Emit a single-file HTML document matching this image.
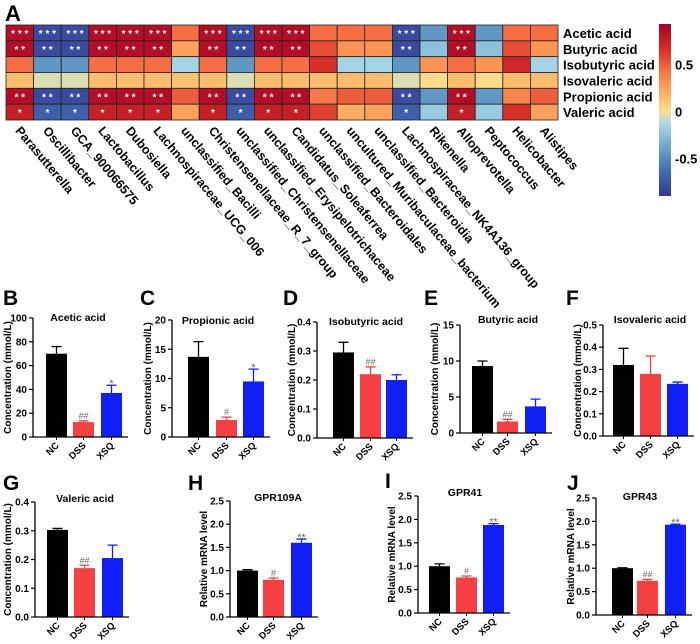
<!DOCTYPE html>
<html><head><meta charset="utf-8"><style>
body{margin:0;background:#fff;}
svg{display:block;font-family:"Liberation Sans",Arial,sans-serif;font-weight:bold;}
</style></head><body>
<svg id="fig" width="700" height="644" viewBox="0 0 700 644" xmlns="http://www.w3.org/2000/svg"></svg>
<script>
const taxa=["Parasutterella","Oscillibacter","GCA_900066575","Lactobacillus","Dubosiella","Lachnospiraceae_UCG_006","unclassified_Bacilli","Christensenellaceae_R_7_group","unclassified_Christensenellaceae","unclassified_Erysipelotrichaceae","Candidatus_Soleaferrea","unclassified_Bacteroidales","uncultured_Muribaculaceae_bacterium","unclassified_Bacteroidia","Lachnospiraceae_NK4A136_group","Rikenella","Alloprevotella","Peptococcus","Helicobacter","Alistipes"];
const acids=["Acetic acid","Butyric acid","Isobutyric acid","Isovaleric acid","Propionic acid","Valeric acid"];
const rAcetic=[0.85,-0.8,-0.8,0.85,0.85,0.85,0.45,0.85,-0.8,0.85,0.85,0.45,0.45,0.45,-0.8,-0.45,0.85,-0.45,0.45,0.45];
const rButyric=[0.85,-0.8,-0.8,0.85,0.85,0.85,0.25,0.85,-0.8,0.85,0.85,0.55,0.3,0.3,-0.8,-0.25,0.85,-0.25,0.55,0.3];
const rIsobutyric=[0.45,-0.45,-0.45,0.45,0.45,0.45,-0.15,0.45,-0.45,0.45,0.45,0.65,-0.15,-0.15,-0.45,0.3,0.45,0.3,0.7,-0.15];
const rIsovaleric=[0.15,-0.05,-0.05,0.15,0.15,0.15,0.12,0.15,-0.05,0.15,0.15,0.15,0.15,0.15,-0.05,0.02,0.15,0.02,0.15,0.15];
const rPropionic=[0.85,-0.8,-0.8,0.85,0.85,0.85,0.5,0.85,-0.8,0.85,0.85,0.4,0.5,0.5,-0.8,-0.45,0.85,-0.45,0.35,0.5];
const rValeric=[0.75,-0.7,-0.7,0.75,0.75,0.75,0.25,0.75,-0.7,0.75,0.75,0.6,0.2,0.25,-0.7,-0.2,0.75,-0.2,0.65,0.25];
const sig=[[3,3,3,3,3,3,0,3,3,3,3,0,0,0,3,0,3,0,0,0],[2,2,2,2,2,2,0,2,2,2,2,0,0,0,2,0,2,0,0,0],[0,0,0,0,0,0,0,0,0,0,0,0,0,0,0,0,0,0,0,0],[0,0,0,0,0,0,0,0,0,0,0,0,0,0,0,0,0,0,0,0],[2,2,2,2,2,2,0,2,2,2,2,0,0,0,2,0,2,0,0,0],[1,1,1,1,1,1,0,1,1,1,1,0,0,0,1,0,1,0,0,0]];
const rows=[rAcetic,rButyric,rIsobutyric,rIsovaleric,rPropionic,rValeric];
const groups=["NC","DSS","XSQ"];
const panels=[
{id:"B",title:"Acetic acid",yt:"Concentration (mmol/L)",ticks:["0","20","40","60","80","100"],max:100,mean:[70,12.5,37],err:[6,1,6.5],ann:["","##","*"],ax:33,top:318,base:437,bx:[46,73,101],lx:3,ly:305,tx:78,ty:321,ytx:11},
{id:"C",title:"Propionic acid",yt:"Concentration (mmol/L)",ticks:["0","5","10","15","20"],max:20,mean:[13.7,2.9,9.5],err:[2.6,0.5,2.1],ann:["","#","*"],ax:172,top:320,base:437,bx:[188,216,243],lx:140,ly:305,tx:218,ty:324,ytx:151},
{id:"D",title:"Isobutyric acid",yt:"Concentration (mmol/L)",ticks:["0.0","0.1","0.2","0.3","0.4"],max:0.4,mean:[0.295,0.22,0.2],err:[0.035,0.025,0.018],ann:["","##",""],ax:317,top:322,base:438,bx:[333,360,386],lx:283,ly:305,tx:366,ty:325,ytx:295},
{id:"E",title:"Butyric acid",yt:"Concentration (mmol/L)",ticks:["0","5","10","15"],max:15,mean:[9.3,1.6,3.7],err:[0.7,0.3,1.0],ann:["","##",""],ax:460,top:325,base:433,bx:[472,497,525],lx:424,ly:305,tx:508,ty:323,ytx:438},
{id:"F",title:"Isovaleric acid",yt:"Concentration (mmol/L)",ticks:["0.0","0.1","0.2","0.3","0.4","0.5"],max:0.5,mean:[0.32,0.28,0.235],err:[0.075,0.08,0.008],ann:["","",""],ax:603,top:325,base:436,bx:[613,640,667],lx:566,ly:305,tx:650,ty:323,ytx:581},
{id:"G",title:"Valeric acid",yt:"Concentration (mmol/L)",ticks:["0.0","0.1","0.2","0.3","0.4"],max:0.4,mean:[0.303,0.17,0.205],err:[0.005,0.01,0.045],ann:["","##",""],ax:35,top:502,base:617,bx:[47,74,102],lx:3,ly:490,tx:85,ty:502,ytx:11},
{id:"H",title:"GPR109A",yt:"Relative mRNA level",ticks:["0.0","0.5","1.0","1.5","2.0","2.5"],max:2.5,mean:[1.0,0.8,1.6],err:[0.02,0.04,0.08],ann:["","#","**"],ax:230,top:501,base:617,bx:[237,263,291],lx:188,ly:490,tx:278,ty:501,ytx:207},
{id:"I",title:"GPR41",yt:"Relative mRNA level",ticks:["0.0","0.5","1.0","1.5","2.0","2.5"],max:2.5,mean:[1.0,0.76,1.88],err:[0.05,0.03,0.03],ann:["","#","**"],ax:418,top:496,base:613,bx:[429,456,483],lx:385,ly:488,tx:465,ty:496,ytx:395},
{id:"J",title:"GPR43",yt:"Relative mRNA level",ticks:["0.0","0.5","1.0","1.5","2.0","2.5"],max:2.5,mean:[1.0,0.73,1.93],err:[0.01,0.03,0.01],ann:["","##","**"],ax:596,top:498,base:615,bx:[612,637,665],lx:567,ly:490,tx:640,ty:500,ytx:574}
];
const NS="http://www.w3.org/2000/svg";
const svg=document.getElementById("fig");
function mk(tag,attrs,parent,txt){const e=document.createElementNS(NS,tag);for(const k in attrs)e.setAttribute(k,attrs[k]);if(txt!==undefined)e.textContent=txt;(parent||svg).appendChild(e);return e;}
// color scale RdYlBu
const stops=[[-0.9,[49,54,149]],[-0.6,[69,117,180]],[-0.35,[116,173,209]],[-0.12,[171,217,233]],[0,[254,224,144]],[0.2,[253,174,97]],[0.45,[244,109,67]],[0.65,[215,48,39]],[0.93,[165,0,38]]];
function col(v){if(v<=stops[0][0])return "rgb("+stops[0][1]+")";for(let i=1;i<stops.length;i++){if(v<=stops[i][0]){const a=stops[i-1],b=stops[i],t=(v-a[0])/(b[0]-a[0]);return "rgb("+a[1].map((c,j)=>Math.round(c+(b[1][j]-c)*t)).join(",")+")";}}return "rgb("+stops[stops.length-1][1]+")";}
// Heatmap
const hx0=6,hx1=558,hy0=25,hy1=120;
const cw=(hx1-hx0)/taxa.length,rh=(hy1-hy0)/acids.length;
const t=mk("text",{x:5,y:21,"font-size":22},svg,"A");


const hm=mk("g",{});


rows.forEach((r,ri)=>{r.forEach((v,ci)=>{
 const c=mk("rect",{x:hx0+ci*cw,y:hy0+ri*rh,width:cw,height:rh,fill:col(v),stroke:"#222","stroke-width":0.8},hm);
 
 
 if(sig[ri][ci]>0){const s=mk("text",{x:hx0+ci*cw+cw/2,y:hy0+ri*rh+rh/2+4,"font-size":10,fill:"#fff","text-anchor":"middle"},hm,"*".repeat(sig[ri][ci]).split("").join(" "));
 
 }
});});
acids.forEach((a,ri)=>{const l=mk("text",{x:563,y:hy0+ri*rh+rh/2+5,"font-size":13},svg,a);
 
 });
taxa.forEach((tx,ci)=>{const x=hx0+ci*cw+cw/2-5,y=131;const l=mk("text",{x:x,y:y,"font-size":12.5,transform:"rotate(50 "+x+" "+y+")"},svg,tx);
 
 });
// colorbar
const defs=mk("defs",{});const gr=mk("linearGradient",{id:"cb",x1:0,y1:1,x2:0,y2:0},defs);
const cbTop=24,cbBot=196,cbMin=-0.9,cbMax=0.93;
stops.forEach(s=>mk("stop",{offset:((s[0]-cbMin)/(cbMax-cbMin)).toFixed(3),"stop-color":"rgb("+s[1]+")"},gr));
const cb=mk("rect",{x:659,y:cbTop,width:12,height:cbBot-cbTop,fill:"url(#cb)"});


const cbTicks=[0.5,0,-0.5];
cbTicks.forEach(v=>{const y=cbTop+(cbMax-v)/(cbMax-cbMin)*(cbBot-cbTop);const l=mk("text",{x:675,y:y+5,"font-size":13},svg,String(v));
 
 });
// bar panels
const fills=["#000","#f44040","#0f1ff5"];
panels.forEach(p=>{
 const g=mk("g",{});
 
 
 const L=mk("text",{x:p.lx,y:p.ly,"font-size":21},g,p.id);
 
 
 const T=mk("text",{x:p.tx,y:p.ty,"font-size":10.5,"text-anchor":"middle"},g,p.title);
 
 
 const ys=v=>p.base-(v/p.max)*(p.base-p.top);
 const cy=(p.top+p.base)/2;
 const YT=mk("text",{x:p.ytx,y:cy,"font-size":10,"text-anchor":"middle",transform:"rotate(-90 "+p.ytx+" "+cy+")"},g,p.yt);
 
 
 const bw=21;
 p.mean.forEach((m,i)=>{
  const x=p.bx[i],yt=ys(m),ye=ys(m+p.err[i]);
  const b=mk("rect",{x:x,y:yt,width:bw,height:p.base-yt,fill:fills[i]},g);
  
  
  const e=mk("path",{d:"M"+(x+bw/2)+" "+yt+"V"+ye+"M"+(x+bw/2-5)+" "+ye+"H"+(x+bw/2+5),stroke:fills[i],"stroke-width":1.3,fill:"none"},g);
  
  
  if(p.ann[i]){const a=mk("text",{x:x+bw/2,y:ye-2+(p.ann[i][0]=="*"?4:0),"font-size":p.ann[i][0]=="*"?11:9,fill:"#666","font-weight":"normal","text-anchor":"middle"},g,p.ann[i]);
   
   }
  const lx=x+bw/2+3,ly=p.base+9;
  const xl=mk("text",{x:lx,y:ly,"font-size":9.5,"text-anchor":"end",transform:"rotate(-45 "+lx+" "+ly+")"},g,groups[i]);
  
  
  mk("line",{x1:x+bw/2,x2:x+bw/2,y1:p.base,y2:p.base+3,stroke:"#000","stroke-width":1},g);
 });
 const ax=mk("path",{d:"M"+p.ax+" "+p.top+"V"+p.base+"H"+(p.bx[2]+bw+6),stroke:"#000","stroke-width":1.3,fill:"none"},g);
 
 
 const n=p.ticks.length-1;
 p.ticks.forEach((tk,i)=>{const y=p.base-(i/n)*(p.base-p.top);
  mk("line",{x1:p.ax-4,x2:p.ax,y1:y,y2:y,stroke:"#000","stroke-width":1.2},g);
  const tl=mk("text",{x:p.ax-6,y:y+3.5,"font-size":10,"text-anchor":"end"},g,tk);
  
  });
});
</script>
</body></html>
